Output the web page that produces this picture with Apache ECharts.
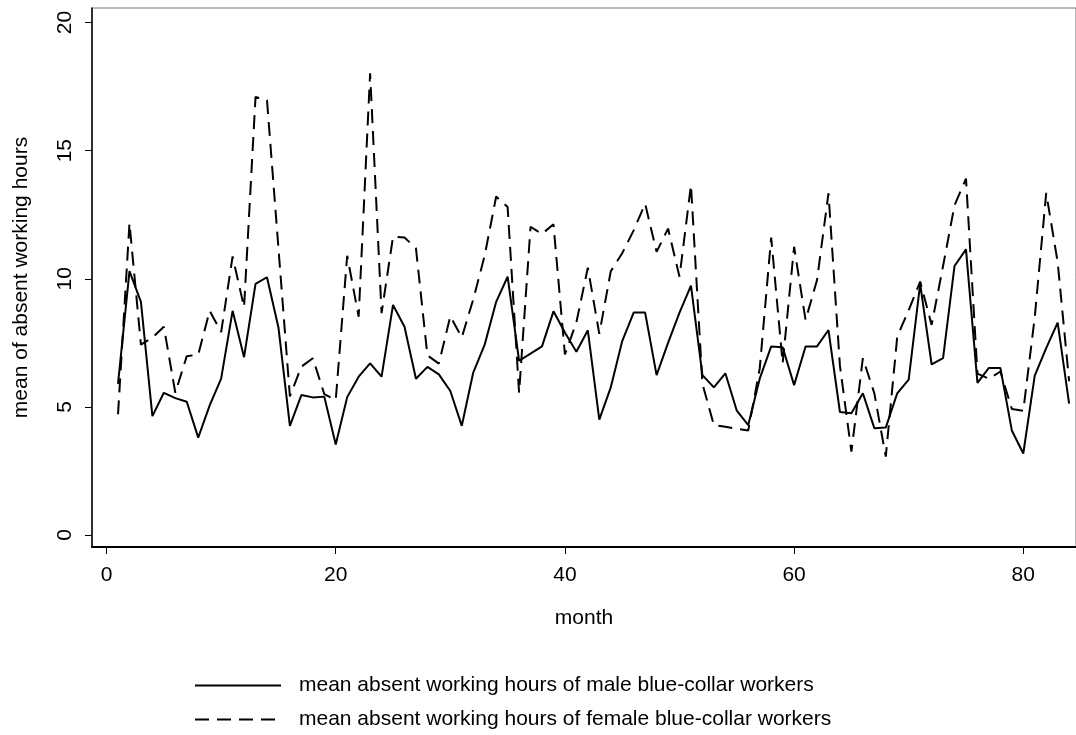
<!DOCTYPE html>
<html>
<head>
<meta charset="utf-8">
<script src="https://cdn.jsdelivr.net/npm/echarts@6/dist/echarts.min.js"></script>
<style>
html,body{margin:0;padding:0;background:#fff;}
#chart{width:1076px;height:735px;}
</style>
</head>
<body>
<div id="chart"></div>
<script>
// months 1..84
const months = [];
for (let m = 1; m <= 84; m++) months.push(m);

const maleHours = [
  5.9, 10.3, 9.1, 4.64, 5.55, 5.34, 5.2, 3.8, 5.06, 6.1,
  8.75, 6.94, 9.8, 10.06, 8.1, 4.26, 5.46, 5.37, 5.4, 3.53,
  5.38, 6.18, 6.7, 6.18, 8.98, 8.13, 6.1, 6.56, 6.27, 5.62,
  4.26, 6.34, 7.43, 9.1, 10.08, 6.8, 7.08, 7.36, 8.73, 7.9,
  7.15, 7.99, 4.5, 5.76, 7.57, 8.68, 8.68, 6.24, 7.5, 8.68,
  9.73, 6.24, 5.76, 6.31, 4.85, 4.29, 6.1, 7.36, 7.33, 5.85,
  7.36, 7.36, 8.0, 4.8, 4.75, 5.53, 4.17, 4.19, 5.53, 6.06,
  9.8, 6.66, 6.9, 10.5, 11.15, 5.94, 6.52, 6.52, 4.08, 3.18,
  6.22, 7.29, 8.29, 5.13
];

const femaleHours = [
  4.71, 12.17, 7.43, 7.7, 8.13, 5.55, 6.98, 7.04, 8.75, 7.92,
  10.87, 8.89, 17.1, 16.97, 11.2, 5.41, 6.57, 6.9, 5.5, 5.27,
  10.9, 8.52, 18.02, 8.66, 11.64, 11.61, 11.19, 7.01, 6.69, 8.54,
  7.71, 9.2, 10.91, 13.21, 12.8, 5.55, 12.03, 11.75, 12.13, 7.05,
  8.3, 10.43, 7.85, 10.29, 11.0, 11.89, 12.93, 11.05, 11.96, 10.08,
  13.66, 5.9, 4.29, 4.22, 4.15, 4.08, 6.5, 11.61, 6.7, 11.25,
  8.39, 9.95, 13.34, 6.6, 3.25, 6.9, 5.53, 3.06, 7.74, 8.78,
  9.89, 8.2, 10.5, 12.87, 13.91, 6.3, 6.1, 6.38, 4.92, 4.85,
  8.5, 13.35, 10.65, 6.0
];

const xTicks = [0, 20, 40, 60, 80];
const yTicks = [0, 5, 10, 15, 20];

const seriesNames = [
  'mean absent working hours of male blue-collar workers',
  'mean absent working hours of female blue-collar workers'
];

const font = "'Liberation Sans', Arial, Helvetica, sans-serif";

const chart = echarts.init(document.getElementById('chart'), null, {renderer: 'canvas'});
chart.setOption({
  backgroundColor: '#fff',
  animation: false,
  textStyle: {fontFamily: font, color: '#000'},
  grid: {
    left: 92, right: 0, top: 8, bottom: 188,
    show: true, borderColor: '#777', borderWidth: 1, backgroundColor: '#fff'
  },
  xAxis: {
    type: 'value',
    min: -1.27, max: 84.6,
    name: 'month',
    nameLocation: 'middle',
    nameGap: 61,
    nameTextStyle: {fontSize: 21, fontFamily: font, color: '#000'},
    axisLine: {show: true, onZero: false, lineStyle: {color: '#000', width: 2}},
    axisTick: {show: true, length: 7, customValues: xTicks, lineStyle: {color: '#000', width: 1}},
    axisLabel: {customValues: xTicks, fontSize: 21, margin: 18, color: '#000', fontFamily: font},
    splitLine: {show: false}
  },
  yAxis: {
    type: 'value',
    min: -0.47, max: 20.57,
    name: 'mean of absent working hours',
    nameLocation: 'middle',
    nameGap: 60,
    nameRotate: 90,
    nameTextStyle: {fontSize: 21, fontFamily: font, color: '#000'},
    axisLine: {show: true, onZero: false, lineStyle: {color: '#000', width: 1.5}},
    axisTick: {show: true, length: 7, customValues: yTicks, lineStyle: {color: '#000', width: 1}},
    axisLabel: {customValues: yTicks, rotate: 90, fontSize: 21, margin: 16, color: '#000', fontFamily: font},
    splitLine: {show: false}
  },
  legend: {
    orient: 'vertical',
    left: 194,
    top: 675,
    padding: 0,
    itemWidth: 86,
    itemHeight: 14,
    itemGap: 13,
    itemStyle: {color: 'rgba(0,0,0,0)', borderColor: 'rgba(0,0,0,0)', borderWidth: 0, opacity: 0},
    textStyle: {fontSize: 21, lineHeight: 21, fontFamily: font, color: '#000', padding: [0, 0, 0, 13]},
    data: seriesNames
  },
  series: [
    {
      name: seriesNames[0],
      type: 'line',
      data: months.map((m, i) => [m, maleHours[i]]),
      symbol: 'none',
      lineStyle: {color: '#000', width: 2, type: 'solid'},
      itemStyle: {color: '#000'}
    },
    {
      name: seriesNames[1],
      type: 'line',
      data: months.map((m, i) => [m, femaleHours[i]]),
      symbol: 'none',
      lineStyle: {color: '#000', width: 2, type: [14, 8]},
      itemStyle: {color: '#000'}
    }
  ]
});
</script>
</body>
</html>
